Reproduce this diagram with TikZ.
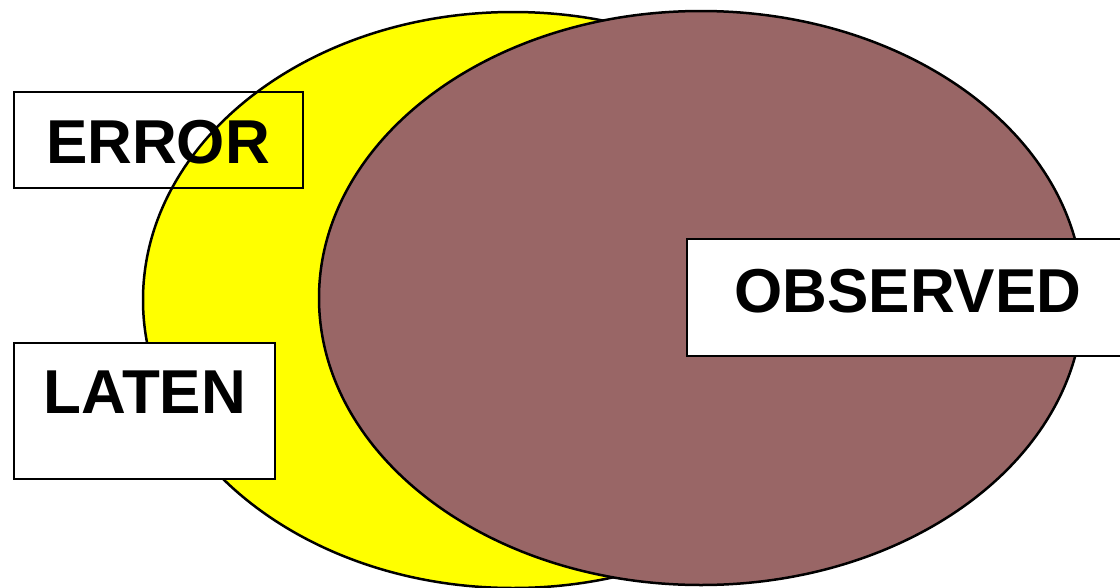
\documentclass[tikz,border=0pt]{standalone}
\usepackage{fontspec}
\setmainfont{Liberation Sans}
\definecolor{brownfill}{RGB}{153,102,102}
\definecolor{yellowfill}{RGB}{255,255,0}
\begin{document}
\begin{tikzpicture}[x=1pt,y=-1pt,
  blob/.style={draw=black,line width=2.5pt},
  lbox/.style={draw=black,line width=2.2pt},
  ltext/.style={anchor=base,inner sep=0pt,font=\fontsize{62}{70}\selectfont\bfseries}]
\clip (0,0) rectangle (1120,587);
\fill[white] (0,0) rectangle (1120,587);
\draw[blob,fill=yellowfill] (513,300) ellipse [x radius=370, y radius=288];
\draw[blob,fill=brownfill] (701,298) ellipse [x radius=382, y radius=287];
\draw[lbox] (14,92) rectangle (303,188);
\node[ltext] (error) at (158,163) {ERROR};
\draw[lbox,fill=white] (14,343) rectangle (275,479);
\node[ltext] (laten) at (145,413) {LATEN};
\draw[lbox,fill=white] (687,239) rectangle (1135,356);
\node[ltext] (observed) at (908,312) {OBSERVED};
\end{tikzpicture}
\end{document}
